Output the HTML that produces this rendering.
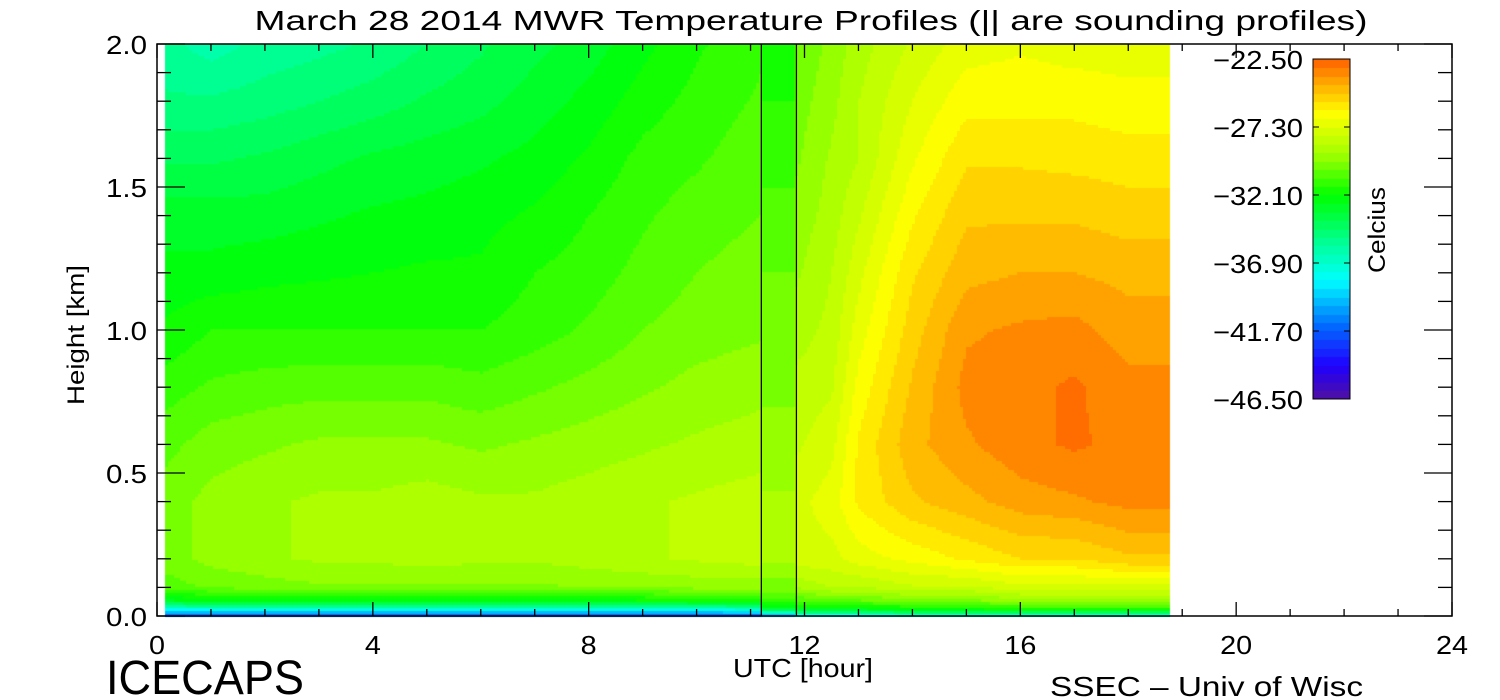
<!DOCTYPE html>
<html><head><meta charset="utf-8"><style>
html,body{margin:0;padding:0;background:#fff;}
#wrap{position:relative;width:1500px;height:700px;overflow:hidden;font-family:"Liberation Sans",sans-serif;}
canvas,svg{position:absolute;left:0;top:0;}
</style></head><body>
<div id="wrap">
<canvas id="cv" width="1500" height="700"></canvas>
<svg id="sv" width="1500" height="700"></svg>
</div>
<script>
const heights=[0,0.02,0.05,0.1,0.2,0.4,0.6,0.8,1.0,1.2,1.4,1.6,1.8,2.0];
const times=[0.15,1,2,3,4,5,6,7,8,9,10,11.2,11.85,12.5,13,14,15,16,17,18,18.75];
const temps=[
[-42,-38,-33,-30.6,-30,-30,-30.5,-31.2,-32,-32.5,-33,-34,-35,-35.5],
[-42,-38,-32.5,-30.2,-29.5,-29.5,-30,-30.8,-31.5,-32.5,-33,-34,-35,-36],
[-42,-38,-32.5,-30,-29.2,-29.2,-29.8,-30.6,-31.5,-32.3,-33,-33.8,-34.8,-35.5],
[-42,-38,-32.5,-29.8,-29,-29,-29.6,-30.5,-31.5,-32.2,-32.8,-33.5,-34.5,-35.3],
[-42,-38,-32.5,-29.8,-29,-29,-29.6,-30.5,-31.5,-32.1,-32.6,-33.2,-34.2,-35],
[-42,-38,-32.5,-29.8,-28.8,-28.8,-29.6,-30.5,-31.5,-32,-32.5,-33,-33.8,-34.5],
[-42,-38,-32.5,-29.8,-29,-29,-29.8,-30.7,-31.5,-32,-32.3,-32.8,-33.5,-34],
[-42,-38,-32.5,-29.8,-29,-29,-29.6,-30.4,-31.2,-31.5,-32,-32.5,-33,-33.5],
[-42,-38,-32.5,-29.7,-28.8,-28.8,-29.4,-30.1,-30.8,-31.2,-31.5,-32,-32.5,-33],
[-42,-38,-32.3,-29.6,-28.6,-28.6,-29.2,-29.8,-30.3,-30.7,-31,-31.3,-31.8,-32.3],
[-42,-38,-32,-29.5,-28.4,-28.4,-29,-29.5,-30,-30.3,-30.6,-31,-31.3,-31.6],
[-42,-37,-32,-29.5,-28.2,-28.2,-28.8,-29.3,-29.8,-30,-30.3,-30.5,-30.8,-31],
[-38,-33,-31,-29,-27.5,-27.5,-28,-28.3,-28.8,-29.2,-29.5,-29.8,-30,-30.3],
[-38,-33,-30.5,-28.5,-27.5,-27,-27.5,-28,-28.3,-28.5,-28.8,-29,-29.3,-29.5],
[-38,-33,-30.5,-28.5,-27,-26,-26,-26.5,-27,-27.5,-28,-28.5,-28.5,-28.8],
[-37,-32.5,-30,-28,-26.5,-25,-24.5,-24.8,-25.2,-25.6,-26.2,-26.8,-27.3,-27.8],
[-37,-32.5,-30,-28,-26,-24.5,-23.8,-23.5,-23.8,-24.5,-25,-25.6,-26.3,-27],
[-37,-32,-29.5,-27.5,-25.5,-24,-23.3,-23.3,-23.6,-24.3,-25,-25.6,-26.3,-26.8],
[-37,-32,-29.5,-27.5,-25.5,-23.8,-23,-23,-23.5,-24.3,-25,-25.7,-26.3,-27],
[-37,-32,-29.5,-27.5,-25,-23.5,-23.3,-23.5,-24,-24.5,-25.2,-25.8,-26.5,-27],
[-37,-32,-29.5,-27.5,-25,-23.5,-23.3,-23.5,-24,-24.5,-25.2,-25.8,-26.5,-27]
];
const soundingStart=11.2, soundingEnd=11.85;
const soundingProfile=[-40,-34,-31,-30,-29,-29,-29.5,-29.8,-30,-30.3,-30.8,-31,-31.5,-32];
const xTicks=[0,4,8,12,16,20,24];
const yTicks=[0.0,0.5,1.0,1.5,2.0];
const cbLabels=[-22.5,-27.3,-32.1,-36.9,-41.7,-46.5];
const tMin=-46.5,tMax=-22.5;

const X0=157,X1=1452,Y0=616,Y1=44;
const xs=h=>X0+(X1-X0)*h/24;
const ys=k=>Y0-(Y0-Y1)*k/2;
const stops=[[0,[80,16,160]],[0.1,[32,0,255]],[0.22,[0,110,255]],[0.35,[0,255,255]],[0.47,[0,255,140]],[0.6,[0,255,0]],[0.72,[160,255,0]],[0.84,[255,255,0]],[0.93,[255,170,0]],[1,[255,95,0]]];
function cmap(v){let t=(v-tMin)/(tMax-tMin);t=Math.max(0,Math.min(1,t));
 for(let i=1;i<stops.length;i++){if(t<=stops[i][0]){const a=stops[i-1],b=stops[i],f=(t-a[0])/(b[0]-a[0]);
 return 'rgb('+a[1].map((c,j)=>Math.round(c+(b[1][j]-c)*f)).join(',')+')';}}return 'rgb(255,95,0)';}
function q(v){return Math.round(v/0.6)*0.6;}
function interp1(arr,grid,x){if(x<=grid[0])return [0,0,0];for(let i=1;i<grid.length;i++){if(x<=grid[i])return [i-1,i,(x-grid[i-1])/(grid[i]-grid[i-1])];}const n=grid.length-1;return [n,n,0];}
function profAt(p,h){const [a,b,f]=interp1(p,heights,h);return p[a]+(p[b]-p[a])*f;}
const ctx=document.getElementById('cv').getContext('2d');
const S=3;
for(let px=Math.round(xs(times[0]));px<xs(times[times.length-1]);px+=S){
 const hr=(px+S/2-X0)/(X1-X0)*24;
 const inSound=hr>=soundingStart&&hr<soundingEnd;
 const [a,b,f]=interp1(times,times,hr);
 for(let py=Y1;py<Y0;py+=S){
  const h=(Y0-(py+S/2))/(Y0-Y1)*2;
  let v;
  if(inSound)v=profAt(soundingProfile,h);
  else v=profAt(temps[a],h)*(1-f)+profAt(temps[b],h)*f;
  ctx.fillStyle=cmap(q(v));ctx.fillRect(px,py,S,S);
 }
}
const CBX=1313,CBW=37,CBT=59,CBB=399;
for(let py=CBT;py<CBB;py++){const v=tMax-(tMax-tMin)*(py-CBT)/(CBB-CBT);ctx.fillStyle=cmap(q(v));ctx.fillRect(CBX,py,CBW,1);}

const sv=document.getElementById('sv');const NS='http://www.w3.org/2000/svg';
function mk(tag,at,txt){const e=document.createElementNS(NS,tag);for(const k in at)e.setAttribute(k,at[k]);if(txt!==undefined)e.textContent=txt;sv.appendChild(e);return e;}
const TA={fill:'#000','lengthAdjust':'spacingAndGlyphs'};
function tx(at,txt){return mk('text',Object.assign({},TA,at),txt);}
let e;
e=mk('rect',{x:X0,y:Y1,width:X1-X0,height:Y0-Y1,fill:'none',stroke:'#000','stroke-width':1.5});


e=mk('rect',{x:CBX,y:CBT,width:CBW,height:CBB-CBT,fill:'none',stroke:'#000','stroke-width':1});


[soundingStart,soundingEnd].forEach(t=>{e=mk('line',{x1:xs(t),x2:xs(t),y1:Y1,y2:Y0,stroke:'#000','stroke-width':1.3});

});
for(let h=0;h<=24;h++){const maj=h%4===0,L=maj?14:7;
 mk('line',{x1:xs(h),x2:xs(h),y1:Y0,y2:Y0-L,stroke:'#000','stroke-width':1.3});
 mk('line',{x1:xs(h),x2:xs(h),y1:Y1,y2:Y1+L,stroke:'#000','stroke-width':1.3});}
for(let i=0;i<=20;i++){const k=i/10,maj=i%5===0,L=maj?28:14;
 mk('line',{x1:X0,x2:X0+L,y1:ys(k),y2:ys(k),stroke:'#000','stroke-width':1.3});
 mk('line',{x1:X1,x2:X1-L,y1:ys(k),y2:ys(k),stroke:'#000','stroke-width':1.3});}
xTicks.forEach(t=>{const s=String(t);e=tx({x:xs(t),y:654,'text-anchor':'middle','font-size':26,textLength:s.length*16},s);

});
yTicks.forEach(t=>{e=tx({x:147,y:ys(t)+10,'text-anchor':'end','font-size':26,textLength:41},t.toFixed(1));

});
cbLabels.forEach(t=>{const y=CBT+(tMax-t)/(tMax-tMin)*(CBB-CBT);
 e=tx({x:1303,y:y+10,'text-anchor':'end','font-size':26,textLength:90},'\u2212'+Math.abs(t).toFixed(2));
 
 
 mk('line',{x1:CBX,x2:CBX+6,y1:y,y2:y,stroke:'#000'});mk('line',{x1:CBX+CBW,x2:CBX+CBW-6,y1:y,y2:y,stroke:'#000'});});
e=tx({x:1385,y:230,'text-anchor':'middle','font-size':24,textLength:86,transform:'rotate(-90 1385 230)'},'Celcius');


e=tx({x:811,y:30,'text-anchor':'middle','font-size':28,textLength:1113},'March 28 2014 MWR Temperature Profiles (|| are sounding profiles)');


e=tx({x:84,y:335,'text-anchor':'middle','font-size':24,textLength:140,transform:'rotate(-90 84 335)'},'Height [km]');


e=tx({x:803,y:677,'text-anchor':'middle','font-size':26,textLength:140},'UTC [hour]');


e=tx({x:106,y:694,'font-size':48,textLength:198},'ICECAPS');


e=tx({x:1050,y:696,'font-size':28,textLength:313},'SSEC \u2013 Univ of Wisc');


</script>
</body></html>
